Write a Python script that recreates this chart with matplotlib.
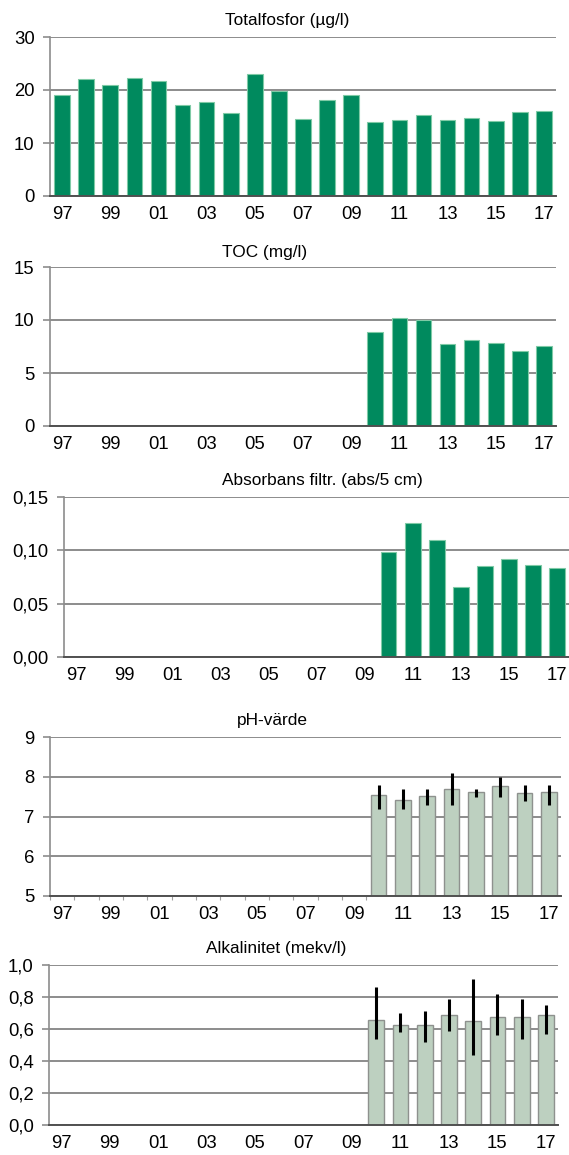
import matplotlib
matplotlib.use("Agg")
import matplotlib.pyplot as plt
from matplotlib.ticker import FuncFormatter, MultipleLocator
import numpy as np

plt.rcParams['font.family'] = ['Liberation Sans', 'DejaVu Sans']

years = list(range(1997, 2018))
year_labels = [f"{y % 100:02d}" for y in years]

totalfosfor = [19.0, 22.0, 21.0, 22.3, 21.7, 17.1, 17.7, 15.7, 23.1, 19.8, 14.5,
               18.1, 19.0, 14.0, 14.3, 15.3, 14.3, 14.8, 14.1, 15.9, 16.0]

toc_years = list(range(2010, 2018))
toc = [8.85, 10.15, 10.0, 7.75, 8.15, 7.85, 7.1, 7.55]

abs_years = list(range(2010, 2018))
absorbans = [0.098, 0.126, 0.110, 0.066, 0.085, 0.092, 0.086, 0.083]

ph_early_years = list(range(1997, 2010))
ph_early = [0] * 13
ph_years = list(range(2010, 2018))
ph_mean = [7.55, 7.42, 7.52, 7.69, 7.61, 7.77, 7.60, 7.61]
ph_min = [7.2, 7.2, 7.3, 7.3, 7.5, 7.5, 7.4, 7.3]
ph_max = [7.8, 7.7, 7.7, 8.1, 7.7, 8.0, 7.8, 7.8]

alk_years = list(range(2010, 2018))
alk_mean = [0.657, 0.623, 0.623, 0.690, 0.650, 0.673, 0.677, 0.689]
alk_min = [0.54, 0.58, 0.52, 0.59, 0.44, 0.56, 0.54, 0.57]
alk_max = [0.86, 0.70, 0.71, 0.79, 0.91, 0.82, 0.79, 0.75]

DARK = '#008a5e'
DARK_EDGE = '#7fcaa6'
LIGHT = '#bdd0c0'
LIGHT_EDGE = '#8e918e'
GRID = '#8c8c8c'

W, H = 569, 1155
fig = plt.figure(figsize=(W / 100, H / 100), dpi=100)


def make_axes(left, right, top, bottom):
    ax = fig.add_axes([left / W, 1 - bottom / H, (right - left) / W, (bottom - top) / H])
    ax._px = (left, right)
    return ax


def style(ax, title, ymin, ymax, step, fmt, title_cx, title_pad):
    ax.set_xlim(-0.5, len(years) - 0.5)
    ax.set_ylim(ymin, ymax)
    ax.yaxis.set_major_locator(MultipleLocator(step))
    ax.yaxis.set_major_formatter(FuncFormatter(lambda v, p: fmt.format(v).replace('.', ',')))
    ax.set_xticks(range(0, len(years), 2))
    ax.set_xticklabels(year_labels[::2])
    ax.tick_params(axis='x', length=0, pad=7, labelsize=13.3)
    ax.tick_params(axis='y', length=5, width=1.2, color=GRID, pad=6, labelsize=13.3)
    ax.grid(axis='y', color=GRID, linewidth=1.4, zorder=0)
    ax.set_axisbelow(True)
    for s in ['top', 'right']:
        ax.spines[s].set_visible(False)
    ax.spines['left'].set_color(GRID)
    ax.spines['left'].set_linewidth(1.2)
    ax.spines['bottom'].set_color('#505050')
    ax.spines['bottom'].set_linewidth(1.4)
    left, right = ax._px
    ax.set_title(title, fontsize=12.4, pad=title_pad, x=(title_cx - left) / (right - left))


def idx(ys):
    return [years.index(y) for y in ys]


BW = 0.65

ax1 = make_axes(50, 556, 37, 196)
ax1.bar(range(len(years)), totalfosfor, width=BW, color=DARK, edgecolor=DARK_EDGE, linewidth=0.8, zorder=2)
style(ax1, 'Totalfosfor (µg/l)', 0, 30, 10, '{:.0f}', 287, 8.5)

ax2 = make_axes(50, 556, 267, 426)
ax2.bar(idx(toc_years), toc, width=BW, color=DARK, edgecolor=DARK_EDGE, linewidth=0.8, zorder=2)
style(ax2, 'TOC (mg/l)', 0, 15, 5, '{:.0f}', 265, 7)

ax3 = make_axes(64, 569, 497, 657)
ax3.bar(idx(abs_years), absorbans, width=BW, color=DARK, edgecolor=DARK_EDGE, linewidth=0.8, zorder=2)
style(ax3, 'Absorbans filtr. (abs/5 cm)', 0, 0.15, 0.05, '{:.2f}', 322, 9)

ax4 = make_axes(50, 561, 737, 896)
ph_x = idx(ph_years)
ax4.bar(idx(ph_early_years), np.array(ph_early) - 5, bottom=5, width=BW, color=LIGHT,
        edgecolor=LIGHT_EDGE, linewidth=1.0, zorder=2, clip_on=True)
ax4.bar(ph_x, np.array(ph_mean) - 5, bottom=5, width=BW, color=LIGHT,
        edgecolor=LIGHT_EDGE, linewidth=1.0, zorder=2)
ax4.errorbar(ph_x, ph_mean,
             yerr=[np.array(ph_mean) - np.array(ph_min), np.array(ph_max) - np.array(ph_mean)],
             fmt='none', ecolor='black', elinewidth=2.2, capsize=0, zorder=3)
style(ax4, 'pH-värde', 5, 9, 1, '{:.0f}', 272, 8.5)
# category boundary ticks on the pH axis
ax4.set_xticks(np.arange(-0.5, 13.5, 1.0), minor=True)
ax4.tick_params(axis='x', which='minor', length=3, width=0.8, color='#a0a0a0')

ax5 = make_axes(49, 558, 965, 1125)
alk_x = idx(alk_years)
ax5.bar(alk_x, alk_mean, width=BW, color=LIGHT, edgecolor=LIGHT_EDGE, linewidth=1.0, zorder=2)
ax5.errorbar(alk_x, alk_mean,
             yerr=[np.array(alk_mean) - np.array(alk_min), np.array(alk_max) - np.array(alk_mean)],
             fmt='none', ecolor='black', elinewidth=2.2, capsize=0, zorder=3)
style(ax5, 'Alkalinitet (mekv/l)', 0, 1.0, 0.2, '{:.1f}', 276, 9)

fig.savefig('out.png', dpi=100)
